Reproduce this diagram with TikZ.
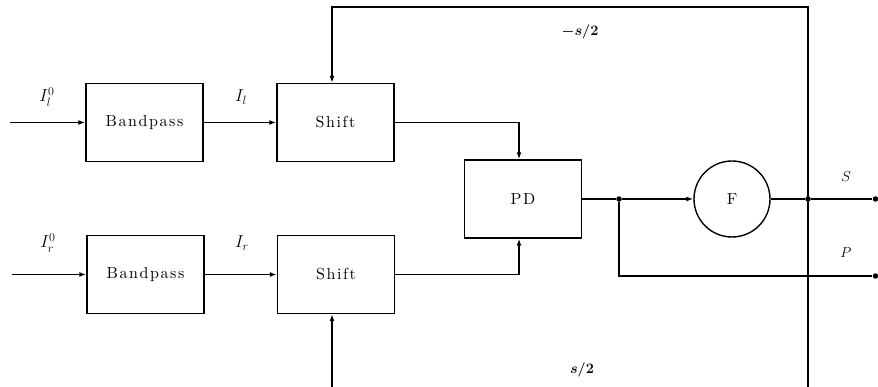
\documentclass[tikz,border=0pt]{standalone}
\usepackage{amsmath,bm}
\usepackage{fontspec}
\newfontfamily\blockfont{lmroman10-regular.otf}[LetterSpace=10]
\usetikzlibrary{arrows.meta}
\begin{document}
\begin{tikzpicture}[x=1pt,y=-1pt,
  line width=1.4pt,
  block/.style={draw, rectangle, inner sep=0pt, minimum width=117pt, minimum height=78pt,
    font=\blockfont\fontsize{16}{18}\selectfont},
  filt/.style={draw, circle, inner sep=0pt, minimum size=76pt, font=\blockfont\fontsize{16}{18}\selectfont},
  arr/.style={-{Latex[length=7pt,width=5pt]}},
  dot/.style={circle, fill, inner sep=0pt, minimum size=5.5pt},
  lbl/.style={font=\fontsize{17}{19}\selectfont},
  slbl/.style={font=\fontsize{15}{17}\selectfont}]
\useasboundingbox (0,0) rectangle (878,387);

% blocks
\node[block] (bp1) at (144.5,122.5) {Bandpass};
\node[block] (sh1) at (335.5,122.5) {Shift};
\node[block] (bp2) at (145.5,274.5) {Bandpass};
\node[block] (sh2) at (336,274.5) {Shift};
\node[block] (pd) at (523,199) {PD};
\node[filt] (F) at (732,199) {F};

% junctions, terminals and corners
\node[dot] (j1) at (619,199) {};
\node[dot] (j2) at (808,199) {};
\node[dot] (oS) at (875.5,199) {};
\node[dot] (oP) at (875.5,276) {};
\coordinate (in1) at (10,122.5);
\coordinate (in2) at (12,274.5);
\coordinate (tl) at (332,7);
\coordinate (tr) at (808,7);
\coordinate (bl) at (332,387);
\coordinate (br) at (808,387);

% signal path
\draw[arr] (in1) -- (bp1.west);
\draw[arr] (bp1) -- (sh1);
\draw[arr] (in2) -- (bp2.west);
\draw[arr] (bp2) -- (sh2);
\draw[arr] (sh1.east) -| ([xshift=-4pt]pd.north);
\draw[arr] (sh2.east) -| ([xshift=-4pt]pd.south);
\draw (pd.east) -- (j1);
\draw[arr] (j1) -- (F.west);
\draw (F.east) -- (j2) -- (oS);
\draw (j1) |- (oP);

% shift feedback
\draw[arr] (br) -- (tr) -- (tl) -- (tl |- sh1.north);
\draw[arr] (bl) -- (bl |- sh2.south);

% labels
\node[lbl] at (47,97) {$I^{0}_{l}$};
\node[lbl] at (241,97) {$I_l$};
\node[lbl] at (48,243) {$I^{0}_{r}$};
\node[lbl] at (242,243) {$I_r$};
\node[slbl] at (580,32) {$\bm{-s/2}$};
\node[slbl] at (582,370) {$\bm{s/2}$};
\node[slbl] at (846,177) {$S$};
\node[slbl] at (846,253) {$P$};
\end{tikzpicture}
\end{document}
